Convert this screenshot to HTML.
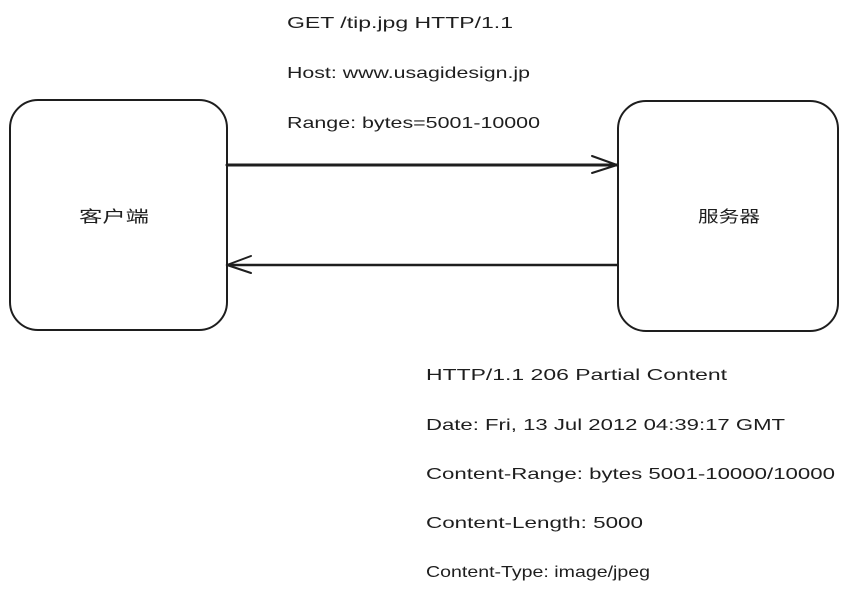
<!DOCTYPE html>
<html><head><meta charset="utf-8"><style>
html,body{margin:0;padding:0;background:#fff;}
svg{display:block}
text{font-family:"Liberation Sans","Noto Sans CJK SC",sans-serif;font-size:16px;fill:#1e1e1e}
</style></head><body>
<svg width="849" height="595" viewBox="0 0 849 595" xmlns="http://www.w3.org/2000/svg">
<g fill="none" stroke="#1e1e1e" stroke-width="2" stroke-linecap="round" stroke-linejoin="round">
<rect x="10" y="100" width="217" height="230" rx="28"/>
<rect x="618" y="101" width="220" height="230" rx="28"/>
<path d="M227 165 L617 165" stroke-width="3"/>
<path d="M592 156 L617 165 L592 173"/>
<path d="M617 265 L227 265" stroke-width="2.5"/>
<path d="M251 256 L227 265 L251 273"/>
</g>
<text x="287" y="28" textLength="226" lengthAdjust="spacingAndGlyphs">GET /tip.jpg HTTP/1.1</text>
<text x="287" y="78" textLength="243" lengthAdjust="spacingAndGlyphs">Host: www.usagidesign.jp</text>
<text x="287" y="128" textLength="253" lengthAdjust="spacingAndGlyphs">Range: bytes=5001-10000</text>
<text x="79" y="222" textLength="70" lengthAdjust="spacingAndGlyphs">客户端</text>
<text x="698" y="222" textLength="62" lengthAdjust="spacingAndGlyphs">服务器</text>
<text x="426" y="380" textLength="301" lengthAdjust="spacingAndGlyphs">HTTP/1.1 206 Partial Content</text>
<text x="426" y="430" textLength="359" lengthAdjust="spacingAndGlyphs">Date: Fri, 13 Jul 2012 04:39:17 GMT</text>
<text x="426" y="479" textLength="409" lengthAdjust="spacingAndGlyphs">Content-Range: bytes 5001-10000/10000</text>
<text x="426" y="528" textLength="217" lengthAdjust="spacingAndGlyphs">Content-Length: 5000</text>
<text x="426" y="577" textLength="224" lengthAdjust="spacingAndGlyphs">Content-Type: image/jpeg</text>
</svg>
</body></html>
